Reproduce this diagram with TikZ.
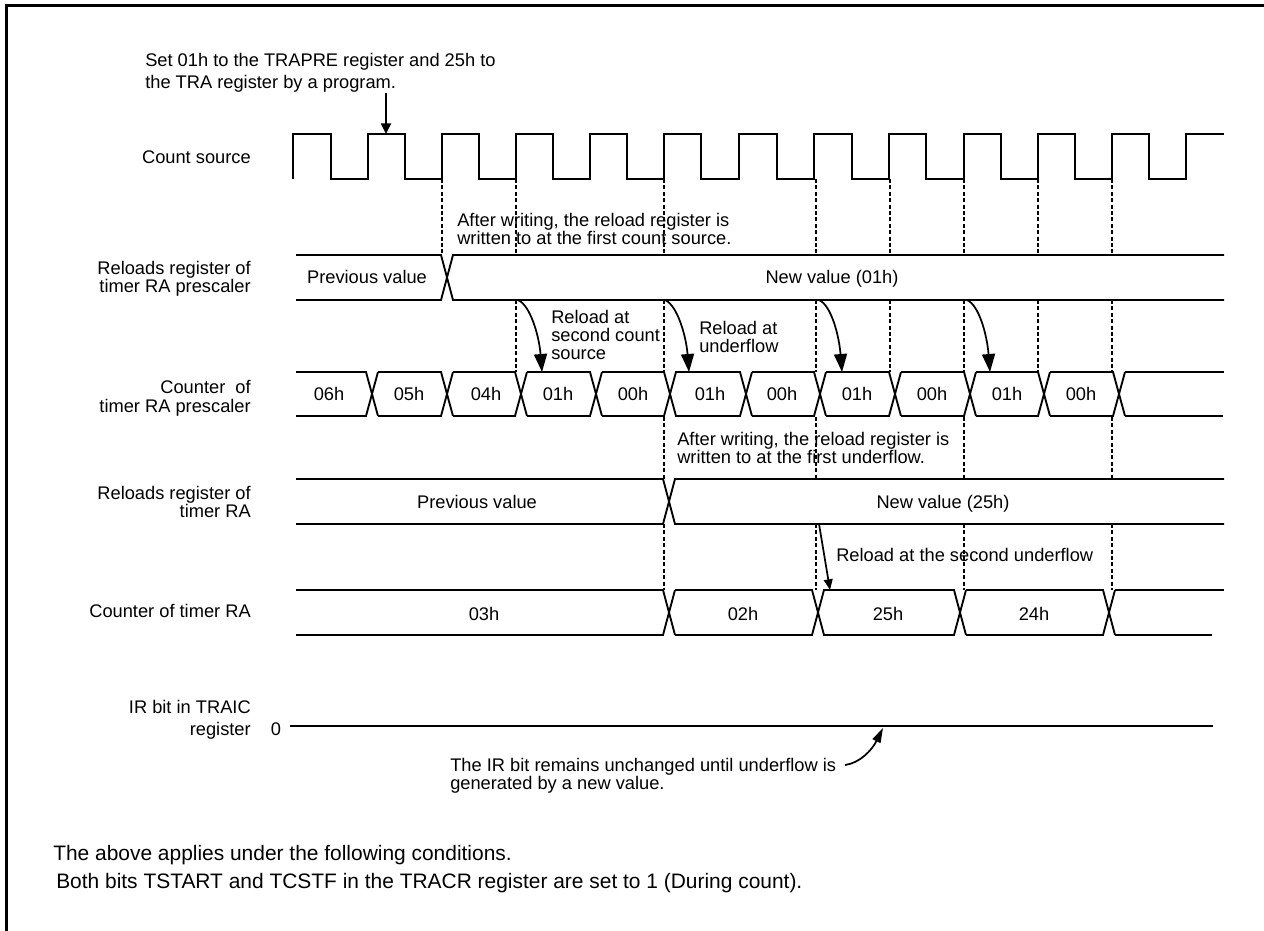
\documentclass[tikz,border=0pt]{standalone}
\usepackage{fontspec}
\setmainfont{Liberation Sans}
\usetikzlibrary{arrows.meta}
\tikzset{
  lbl/.style={inner sep=0pt, font=\fontsize{13.7}{13.5}\selectfont, text=black},
  lblleft/.style={lbl, anchor=west, align=left},
  lblright/.style={lbl, anchor=east, align=right},
  valtxt/.style={lbl, text height=9.8pt, text depth=0pt},
  condtxt/.style={lblleft, font=\fontsize{15.7}{18}\selectfont},
  wave/.style={line width=1.4pt, black},
  guide/.style={line width=1pt, dash pattern=on 3pt off 1.8pt, black},
  bigtip/.style={-{Triangle[length=13.5pt,width=9.75pt]}, line width=1.3pt},
  smalltip/.style={-{Triangle[length=8pt,width=6.5pt]}, line width=1.3pt}
}
\begin{document}
\begin{tikzpicture}[x=0.75pt,y=-0.75pt]
  \useasboundingbox (0,0) rectangle (1264,931);
  \draw[line width=2.25pt] (6.5,931) -- (6.5,5.5) -- (1264,5.5);
  % clock
  \draw[wave] (293,179) -- (293,134) -- (331,134) -- (331,179) -- (368,179) -- (368,134) -- (405,134) -- (405,179) -- (442,179) -- (442,134) -- (479,134) -- (479,179) -- (516,179) -- (516,134) -- (553,134) -- (553,179) -- (590,179) -- (590,134) -- (627,134) -- (627,179) -- (664,179) -- (664,134) -- (701,134) -- (701,179) -- (739,179) -- (739,134) -- (777,134) -- (777,179) -- (814,179) -- (814,134) -- (852,134) -- (852,179) -- (889,179) -- (889,134) -- (926,134) -- (926,179) -- (964,179) -- (964,134) -- (1001,134) -- (1001,179) -- (1038,179) -- (1038,134) -- (1075,134) -- (1075,179) -- (1112,179) -- (1112,134) -- (1149,134) -- (1149,179) -- (1186,179) -- (1186,134) -- (1224,134);
  % guides
  \foreach \gx/\ga/\gb in {442/179/255, 516/179/255, 664/179/255, 816/179/255, 890/179/255, 964/179/255, 1038/179/255, 1112/179/255,
    516/300/372, 664/300/372, 816/300/372, 890/300/372, 964/300/372, 1038/300/372, 1112/300/372,
    664/417/479, 816/417/479, 964/417/479, 1112/417/479,
    664/524/590, 816/524/590, 964/524/590, 1112/524/590}
    \draw[guide] (\gx,\ga) -- (\gx,\gb);
  % reload register of prescaler
  \draw[wave] (296,255) -- (441,255) -- (453,300) -- (1224,300);
  \draw[wave] (296,300) -- (441,300) -- (453,255) -- (1224,255);
  % counter of prescaler
  \foreach \xa/\xb in {296/366, 378/441, 453/515, 527/590, 602/664, 675/740, 752/814, 826/889, 901/964, 976/1038, 1050/1113}
    \draw[wave] (\xa,372) -- (\xb,372) -- ++(12,44) (\xa,416) -- (\xb,416) -- ++(12,-44);
  \draw[wave] (1125,372) -- (1224,372) (1125,416) -- (1223,416);
  % reload register of timer
  \draw[wave] (296,479) -- (663,479) -- (675,524) -- (1224,524);
  \draw[wave] (296,524) -- (663,524) -- (675,479) -- (1224,479);
  % counter of timer
  \foreach \xa/\xb in {296/663, 675/812, 823/954, 966/1103}
    \draw[wave] (\xa,590) -- (\xb,590) -- ++(12,45) (\xa,635) -- (\xb,635) -- ++(12,-45);
  \draw[wave] (1115,590) -- (1224,590) (1115,635) -- (1212,635);
  % IR bit
  \draw[line width=1.6pt] (290,726) -- (1213,726);
  % signal names
  \node[lblright] (srcname) at (251,157) {Count source};
  \node[lblright] (presreg) at (251,279) {Reloads register of\\timer RA prescaler};
  \node[lblright] (prescnt) at (251,398) {Counter\ \ of\\[1pt]timer RA prescaler};
  \node[lblright] (timerreg) at (251,502) {Reloads register of\\timer RA};
  \node[lblright] (timercnt) at (251,611) {Counter of timer RA};
  \node[lblright] (irbit) at (251,720) {IR bit in TRAIC\\[3pt]register};
  \node[valtxt] (irzero) at (276,729) {0};
  % values
  \node[valtxt] (presold) at (367,277) {Previous value};
  \node[valtxt] (presnew) at (832,277) {New value (01h)};
  \foreach \vx/\vt [count=\vi] in {329/06h, 409/05h, 486/04h, 558/01h, 633/00h, 710/01h, 782/00h, 857/01h, 932/00h, 1007/01h, 1081/00h}
    \node[valtxt] (cnt\vi) at (\vx,394) {\vt};
  \node[valtxt] (timerold) at (477,502) {Previous value};
  \node[valtxt] (timernew) at (943,502) {New value (25h)};
  \foreach \vx/\vt [count=\vi] in {484/03h, 743/02h, 888/25h, 1034/24h}
    \node[valtxt] (tcnt\vi) at (\vx,614) {\vt};
  % notes
  \node[lblleft] (setnote) at (145,73) {Set 01h to the TRAPRE register and 25h to\\[3pt]the TRA register by a program.};
  \node[lblleft] (firstsrc) at (457,229) {After writing, the reload register is\\written to at the first count source.};
  \node[lblleft] (secondsrc) at (551,335) {Reload at\\second count\\source};
  \node[lblleft] (atunder) at (699,337) {Reload at\\underflow};
  \node[lblleft] (firstunder) at (677,448) {After writing, the reload register is\\written to at the first underflow.};
  \node[lblleft] (secondunder) at (836,555) {Reload at the second underflow};
  \node[lblleft] (irnote) at (450,776) {The IR bit remains unchanged until underflow is\\generated by a new value.};
  \node[condtxt] (cond1) at (53,855) {The above applies under the following conditions.};
  \node[condtxt] (cond2) at (56,883) {Both bits TSTART and TCSTF in the TRACR register are set to 1 (During count).};
  % arrows
  \coordinate (settop) at (386,93);
  \coordinate (settip) at (386,134);
  \draw[line width=1.3pt, -{Triangle[length=8pt,width=7.5pt]}] (settop) -- (settip);
  \foreach \ax/\bx [count=\ai] in {518/542, 665/689, 819/842, 967/990} {
    \coordinate (rs\ai) at (\ax,300);
    \coordinate (re\ai) at (\bx,372);
    \draw[bigtip] (rs\ai) .. controls (\ax+12,305) and (\bx-3,335) .. (re\ai);
  }
  \coordinate (us) at (819,524);
  \coordinate (ue) at (830,590);
  \draw[smalltip] (us) -- (ue);
  \coordinate (irs) at (845,765);
  \coordinate (ire) at (883,728);
  \draw[line width=1.3pt, -{Triangle[length=11pt,width=6.5pt]}] (irs) .. controls (860,763) and (872,750) .. (ire);
\end{tikzpicture}
\end{document}
